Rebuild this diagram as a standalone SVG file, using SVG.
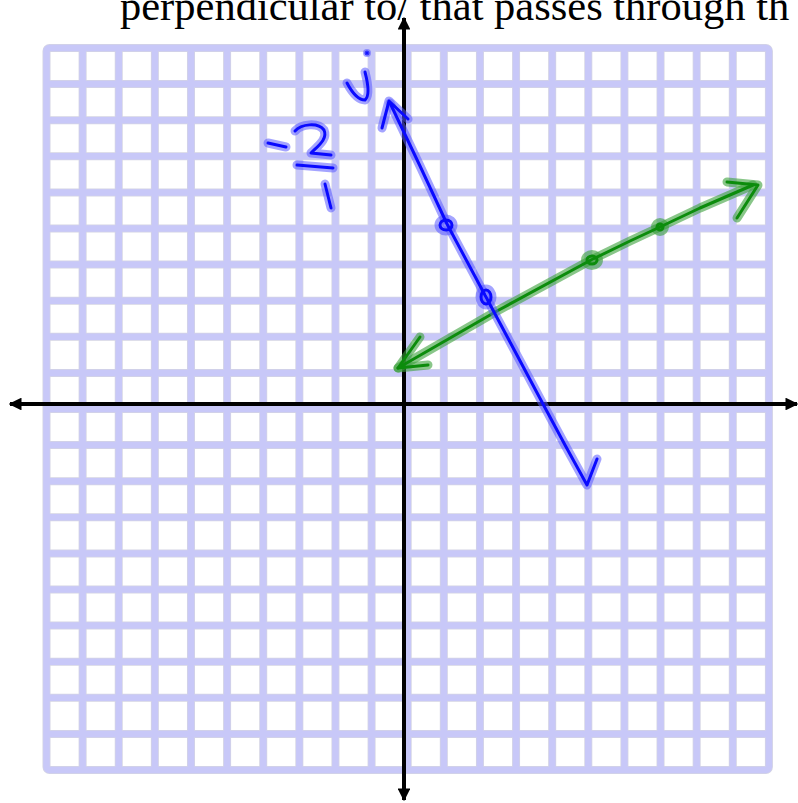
<svg xmlns="http://www.w3.org/2000/svg" width="798" height="803" viewBox="0 0 798 803">
<style>
.gl{stroke:#d4d4e4;stroke-width:8;fill:none}
.gv{stroke:#c8c8f8;stroke-width:6.5;fill:none}
.ax{stroke:#000;stroke-width:4;fill:none}
.bh{stroke:#5a5aff;stroke-opacity:0.55;stroke-width:9;fill:none;stroke-linecap:round;stroke-linejoin:round}
.bc{stroke:#0a0aff;stroke-width:3;fill:none;stroke-linecap:round;stroke-linejoin:round}
.gh{stroke:#3aa03a;stroke-opacity:0.6;stroke-width:9;fill:none;stroke-linecap:round;stroke-linejoin:round}
.gc{stroke:#0c8c0c;stroke-width:3;fill:none;stroke-linecap:round;stroke-linejoin:round}
.t{font-family:"Liberation Serif","Times New Roman",serif;font-size:42.5px;fill:#000}
</style>
<defs>
<marker id="ah" viewBox="0 0 10 10" refX="9" refY="5" markerWidth="3.2" markerHeight="3.2" orient="auto" markerUnits="strokeWidth">
<path d="M0,0 L10,5 L0,10 Z" fill="#000"/>
</marker>
<path id="gridlines" d="M82.62,48V770M118.74,48V770M154.86,48V770M190.98,48V770M227.1,48V770M263.22,48V770M299.34,48V770M335.46,48V770M371.58,48V770M407.7,48V770M443.82,48V770M479.94,48V770M516.06,48V770M552.18,48V770M588.3,48V770M624.42,48V770M660.54,48V770M696.66,48V770M732.78,48V770M46.5,84.1H768.9M46.5,120.2H768.9M46.5,156.3H768.9M46.5,192.4H768.9M46.5,228.5H768.9M46.5,264.6H768.9M46.5,300.7H768.9M46.5,336.8H768.9M46.5,372.9H768.9M46.5,409H768.9M46.5,445.1H768.9M46.5,481.2H768.9M46.5,517.3H768.9M46.5,553.4H768.9M46.5,589.5H768.9M46.5,625.6H768.9M46.5,661.7H768.9M46.5,697.8H768.9M46.5,733.9H768.9"/>
</defs>
<rect width="798" height="803" fill="#fff"/>
<g id="grid">
<use href="#gridlines" class="gl"/>
<rect x="46.5" y="48" width="722.4" height="722" rx="3" class="gl"/>
<use href="#gridlines" class="gv"/>
<rect x="46.5" y="48" width="722.4" height="722" rx="3" class="gv"/>
</g>
<text id="title" class="t" x="120" y="20">perpendicular to/ that passes through th</text>
<g id="axes">
<line class="ax" x1="404" y1="404" x2="10" y2="404" marker-end="url(#ah)"/>
<line class="ax" x1="404" y1="404" x2="797" y2="404" marker-end="url(#ah)"/>
<line class="ax" x1="404" y1="404" x2="404" y2="18" marker-end="url(#ah)"/>
<line class="ax" x1="404" y1="404" x2="404" y2="800" marker-end="url(#ah)"/>
</g>
<g id="green-line">
<path class="gh" d="M398,368 L497,311 L591,260 L630,241 L660,227 L700,208 L753,185"/>
<path class="gh" d="M420,337 L398,368 L428,365"/>
<path class="gh" d="M727,182 L758,185 L737,218"/>
<ellipse class="gh" cx="592" cy="260" rx="6.5" ry="5.5" stroke-width="10"/>
<circle class="gh" cx="660" cy="227" r="4.5" stroke-width="9"/>
<path class="gc" d="M398,368 L497,311 L591,260 L630,241 L660,227 L700,208 L753,185"/>
<path class="gc" d="M420,337 L398,368 L428,365"/>
<path class="gc" d="M727,182 L758,185 L737,218"/>
<ellipse class="gc" cx="592" cy="260" rx="5" ry="4" stroke-width="5"/>
<circle class="gc" cx="660" cy="227" r="3" stroke-width="4"/>
</g>
<g id="blue-line">
<path class="bh" d="M390,103 L420,166 L447,224 L486,297 L543,404 L565,445 L587,485 L597,459"/>
<path class="bh" d="M382,128 L389,101 L408,119"/>
<ellipse class="bh" cx="446" cy="225" rx="7" ry="6" stroke-width="10"/>
<ellipse class="bh" cx="486" cy="297" rx="6" ry="8" stroke-width="10"/>
<path class="bc" d="M390,103 L420,166 L447,224 L486,297 L543,404 L565,445 L587,485 L597,459"/>
<path class="bc" d="M382,128 L389,101 L408,119"/>
<ellipse class="bc" cx="446" cy="225" rx="6" ry="5" stroke-width="4"/>
<ellipse class="bc" cx="486" cy="297" rx="5" ry="7" stroke-width="4"/>
</g>
<g id="slope-note">
<path class="bh" d="M268,143 L286,147"/>
<path class="bh" d="M295,131 C301,124 318,122 324,130 C328,139 318,146 311,153 L331,155"/>
<path class="bh" d="M297,165 L333,168"/>
<path class="bh" d="M325,184 L331,208"/>
<path class="bh" d="M347,83 Q356,100 365,100 Q371,95 365,72"/>
<circle cx="367" cy="53" r="2.5" fill="#0a0aff" stroke="#5a5aff" stroke-opacity="0.55" stroke-width="3"/>
<path class="bc" d="M268,143 L286,147"/>
<path class="bc" d="M295,131 C301,124 318,122 324,130 C328,139 318,146 311,153 L331,155"/>
<path class="bc" d="M297,165 L333,168"/>
<path class="bc" d="M325,184 L331,208"/>
<path class="bc" d="M347,83 Q356,100 365,100 Q371,95 365,72"/>
</g>
</svg>
